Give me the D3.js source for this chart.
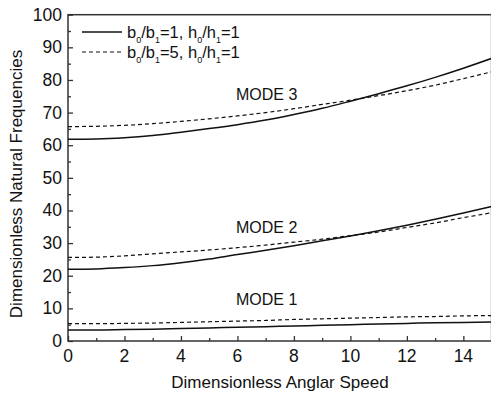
<html>
<head>
  <meta charset="utf-8">
  <script src="https://d3js.org/d3.v7.min.js"></script>
  <style>
    body { margin: 0; background: #fff; }
    text { font-family: Arial, "Liberation Sans", sans-serif; fill: #111; }
  </style>
</head>
<body>
  <svg id="chart" width="491" height="396"></svg>
  <script>
    // angular speed samples
    const speed = [0, 1, 2, 3, 4, 5, 6, 7, 8, 9, 10, 11, 12, 13, 14, 15];

    // b0/b1=1, h0/h1=1 (solid)
    const mode1Solid = [3.4, 3.4, 3.5, 3.6, 3.8, 4.0, 4.2, 4.4, 4.6, 4.8, 5.0, 5.2, 5.4, 5.6, 5.7, 5.8];
    const mode2Solid = [22.0, 22.1, 22.5, 23.1, 24.0, 25.1, 26.5, 27.8, 29.2, 30.7, 32.2, 33.8, 35.5, 37.3, 39.2, 41.2];
    const mode3Solid = [61.8, 61.9, 62.3, 63.0, 64.0, 65.1, 66.3, 67.7, 69.4, 71.3, 73.5, 75.8, 78.2, 80.8, 83.6, 86.6];

    // b0/b1=5, h0/h1=1 (dashed)
    const mode1Dash = [5.3, 5.3, 5.4, 5.5, 5.7, 5.9, 6.1, 6.3, 6.6, 6.8, 7.0, 7.2, 7.4, 7.5, 7.7, 7.8];
    const mode2Dash = [25.6, 25.7, 26.1, 26.7, 27.3, 27.9, 28.6, 29.4, 30.3, 31.2, 32.3, 33.4, 34.8, 36.2, 37.8, 39.3];
    const mode3Dash = [65.7, 65.8, 66.1, 66.6, 67.3, 68.1, 69.0, 70.0, 71.2, 72.5, 73.8, 75.2, 76.7, 78.4, 80.4, 82.5];

    const xTicks = [0, 2, 4, 6, 8, 10, 12, 14];
    const yTicks = [0, 10, 20, 30, 40, 50, 60, 70, 80, 90, 100];
    const modeLabels = [
      { text: "MODE 3", x: 5.95, y: 74 },
      { text: "MODE 2", x: 5.95, y: 33.2 },
      { text: "MODE 1", x: 5.95, y: 10.9 }
    ];

    const svg = d3.select("#chart");
    const margin = { top: 14.7, left: 68 };
    const plotW = 423.6;
    const plotH = 326.3;

    const xScale = d3.scaleLinear().domain([0, 15]).range([0, plotW]);
    const yScale = d3.scaleLinear().domain([0, 100]).range([plotH, 0]);

    const g = svg.append("g").attr("transform", `translate(${margin.left},${margin.top})`);

    // frame
    g.append("rect")
      .attr("x", 0).attr("y", 0)
      .attr("width", plotW).attr("height", plotH)
      .attr("fill", "none").attr("stroke", "#333").attr("stroke-width", 1.5);

    // y axis: ticks pointing inside
    const leftAxis = d3.axisRight(yScale)
      .tickValues(yTicks).tickSize(5).tickFormat("");
    const leftMinor = d3.axisRight(yScale)
      .tickValues(d3.range(5, 100, 10)).tickSize(3).tickFormat("");
    g.append("g").attr("class", "y axis").call(leftAxis);
    g.append("g").attr("class", "y minor").call(leftMinor);

    const bottomAxis = d3.axisTop(xScale)
      .tickValues(xTicks).tickSize(5).tickFormat("");
    const bottomMinor = d3.axisTop(xScale)
      .tickValues(d3.range(1, 16, 2)).tickSize(3).tickFormat("");
    g.append("g").attr("class", "x axis").attr("transform", `translate(0,${plotH})`).call(bottomAxis);
    g.append("g").attr("class", "x minor").attr("transform", `translate(0,${plotH})`).call(bottomMinor);

    g.selectAll(".axis .domain, .minor .domain").remove();
    g.selectAll(".axis line, .minor line").attr("stroke", "#333").attr("stroke-width", 1.3);

    // tick labels
    g.selectAll("text.ylab").data(yTicks).join("text")
      .attr("class", "ylab")
      .attr("x", -6)
      .attr("y", d => yScale(d) + 6)
      .attr("text-anchor", "end")
      .style("font-size", "17.5px")
      .text(d => d);

    g.selectAll("text.xlab").data(xTicks).join("text")
      .attr("class", "xlab")
      .attr("x", d => xScale(d))
      .attr("y", plotH + 21)
      .attr("text-anchor", "middle")
      .style("font-size", "17.5px")
      .text(d => d);

    // axis titles
    svg.append("text")
      .attr("x", 280).attr("y", 388)
      .attr("text-anchor", "middle")
      .style("font-size", "17px")
      .text("Dimensionless Anglar Speed");

    svg.append("text")
      .attr("transform", "translate(22,184) rotate(-90)")
      .attr("text-anchor", "middle")
      .style("font-size", "17px")
      .text("Dimensionless Natural Frequencies");

    // curves
    const line = d3.line()
      .x(d => xScale(d[0]))
      .y(d => yScale(d[1]))
      .curve(d3.curveMonotoneX);

    const series = [
      { vals: mode1Solid, dash: null },
      { vals: mode2Solid, dash: null },
      { vals: mode3Solid, dash: null },
      { vals: mode1Dash, dash: "4,3" },
      { vals: mode2Dash, dash: "4,3" },
      { vals: mode3Dash, dash: "4,3" }
    ];

    g.selectAll("path.curve").data(series).join("path")
      .attr("class", "curve")
      .attr("fill", "none")
      .attr("stroke", "#111")
      .attr("stroke-width", d => d.dash ? 1.2 : 1.5)
      .attr("stroke-dasharray", d => d.dash)
      .attr("d", d => line(speed.map((s, i) => [s, d.vals[i]])));

    // mode labels
    g.selectAll("text.mode").data(modeLabels).join("text")
      .attr("class", "mode")
      .attr("x", d => xScale(d.x))
      .attr("y", d => yScale(d.y))
      .style("font-size", "16px")
      .text(d => d.text);

    // legend
    const legendItems = [
      { b: "1", dash: null, y: 32 },
      { b: "5", dash: "4,3", y: 52 }
    ];
    legendItems.forEach(item => {
      svg.append("line")
        .attr("x1", 82).attr("x2", 122)
        .attr("y1", item.y).attr("y2", item.y)
        .attr("stroke", "#111")
        .attr("stroke-width", item.dash ? 1.2 : 1.5)
        .attr("stroke-dasharray", item.dash);

      const t = svg.append("text")
        .attr("x", 127).attr("y", item.y + 6)
        .style("font-size", "16.5px");
      t.append("tspan").text("b");
      t.append("tspan").attr("dy", 5).style("font-size", "9px").text("0");
      t.append("tspan").attr("dy", -5).text("/b");
      t.append("tspan").attr("dy", 5).style("font-size", "9px").text("1");
      t.append("tspan").attr("dy", -5).text(`=${item.b}, h`);
      t.append("tspan").attr("dy", 5).style("font-size", "9px").text("0");
      t.append("tspan").attr("dy", -5).text("/h");
      t.append("tspan").attr("dy", 5).style("font-size", "9px").text("1");
      t.append("tspan").attr("dy", -5).text("=1");
    });
  </script>
</body>
</html>
